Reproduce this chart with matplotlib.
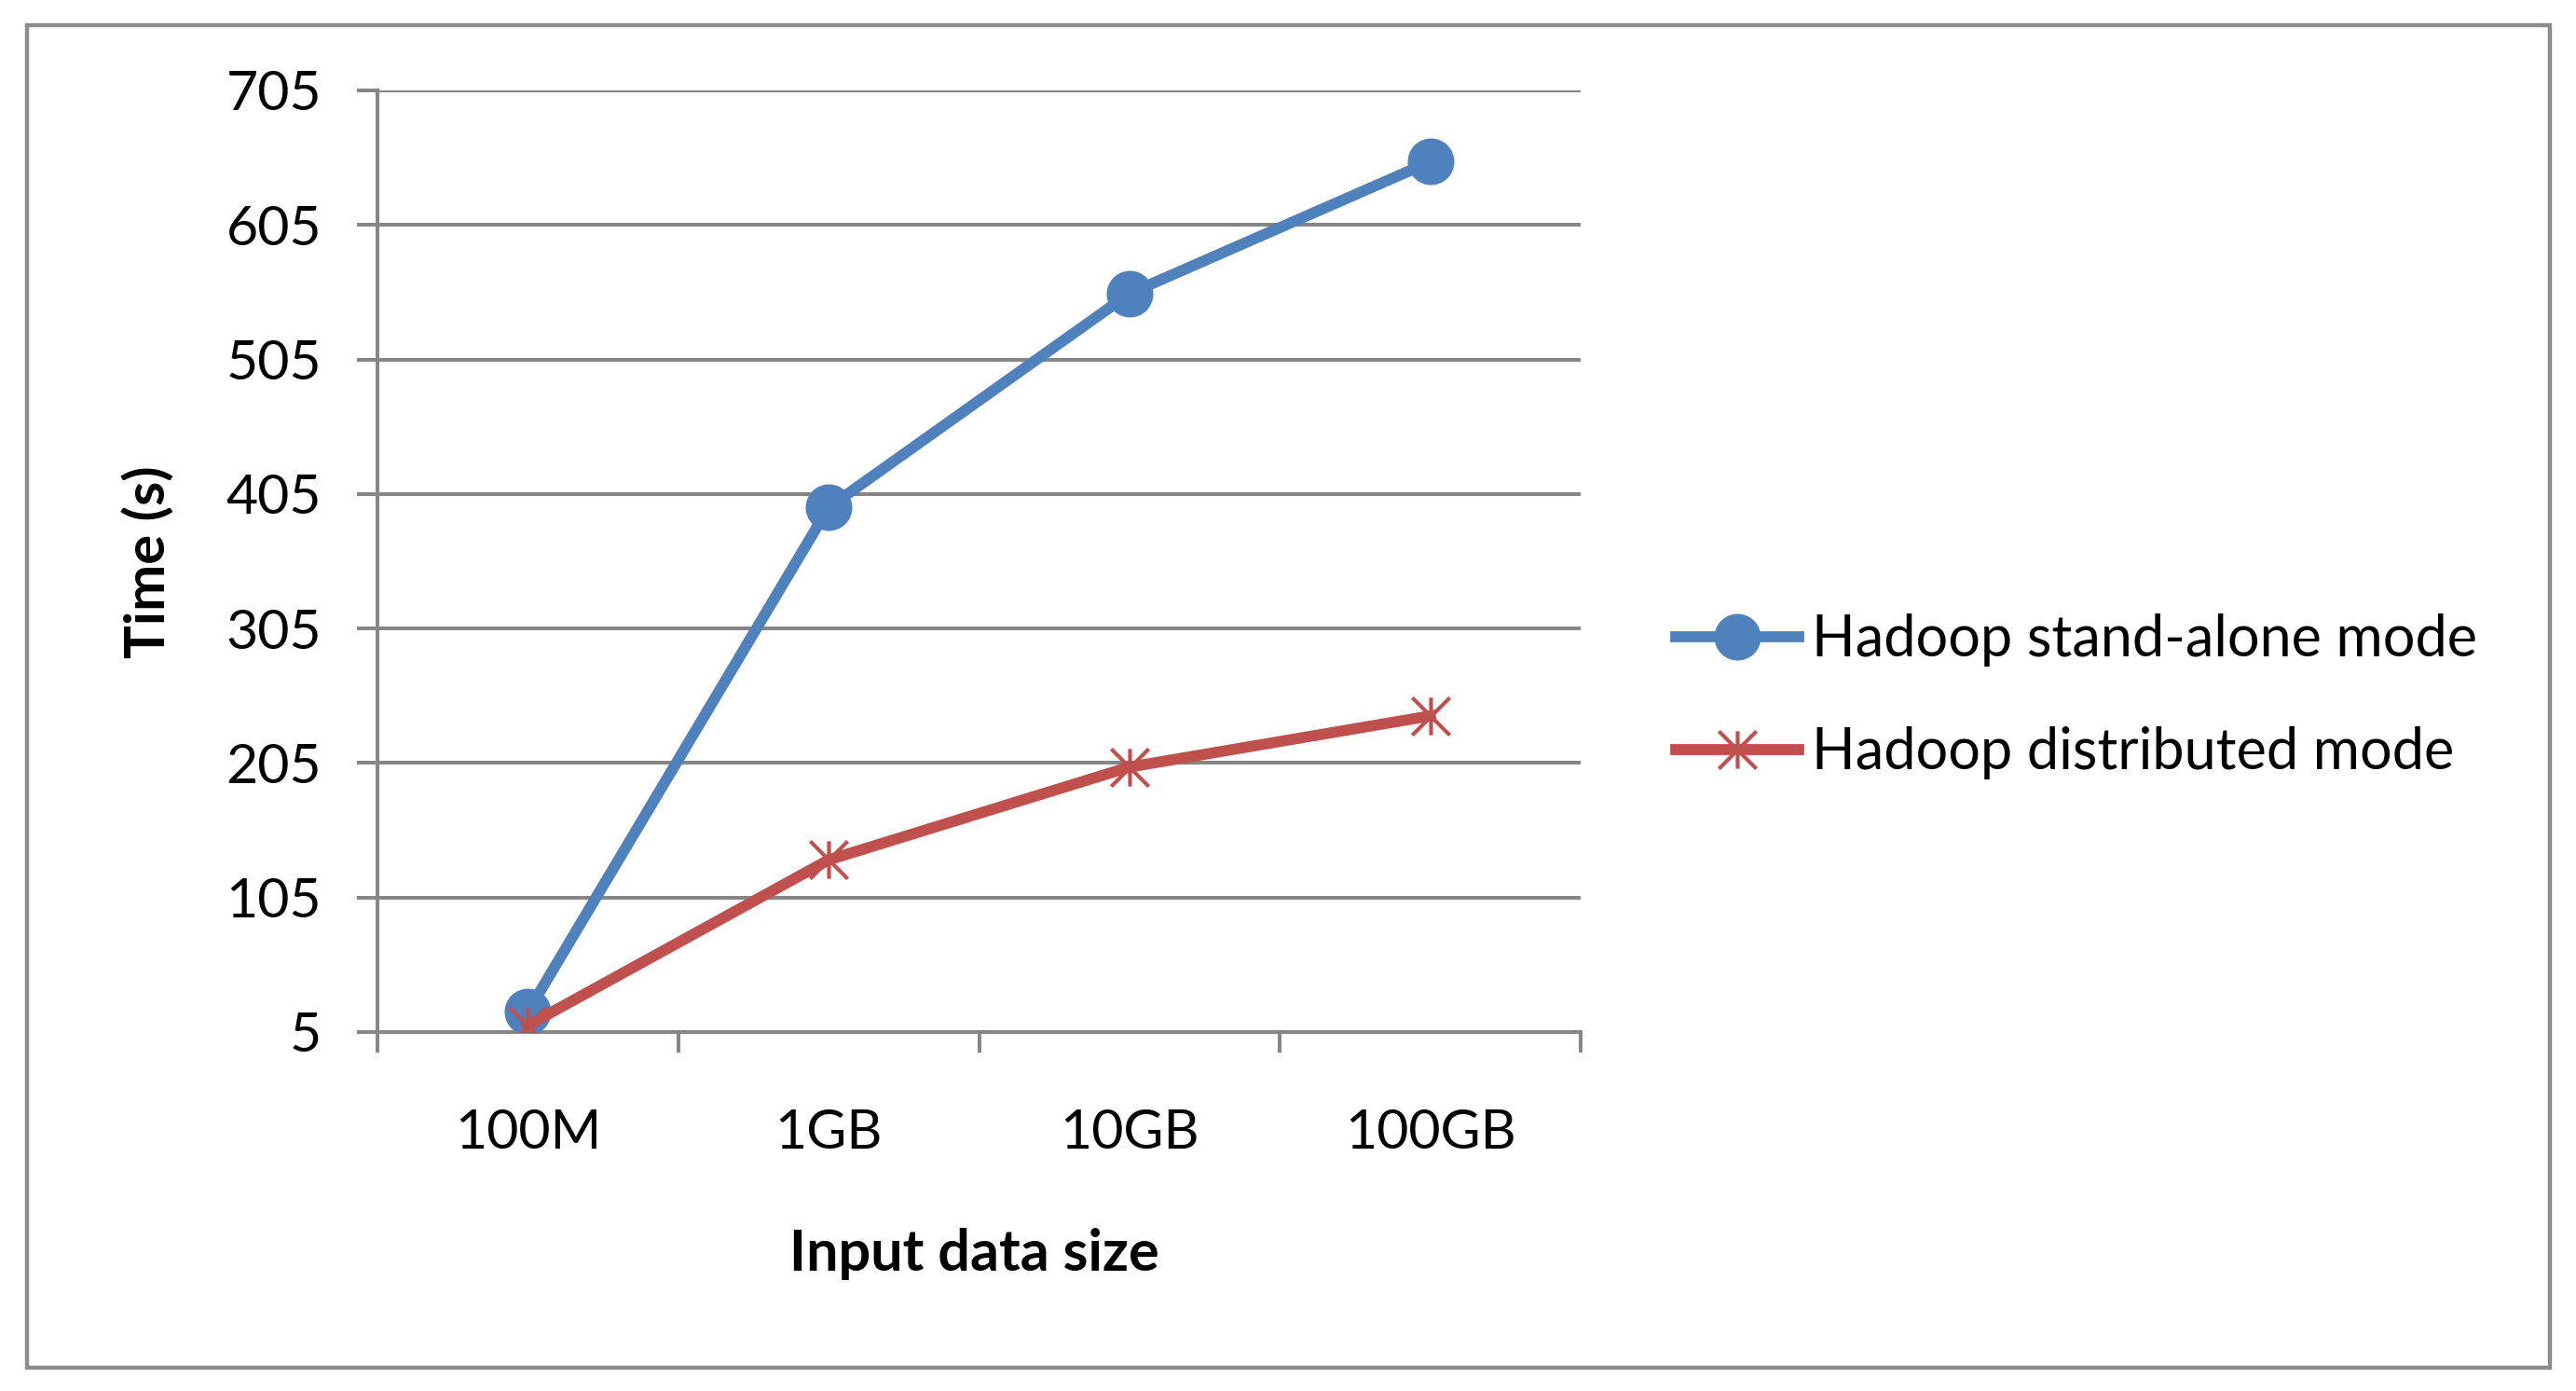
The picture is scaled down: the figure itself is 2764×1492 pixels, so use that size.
import matplotlib.pyplot as plt
from matplotlib.path import Path
from matplotlib.patches import Rectangle

# data
sizes = ['100M', '1GB', '10GB', '100GB']
standalone = [20, 395, 554, 652]
distributed = [10, 133, 202, 240]
yticks = [5, 105, 205, 305, 405, 505, 605, 705]

blue = '#4F81BD'
red = '#C0504D'
grid_gray = '#868686'

plt.rcParams['font.family'] = ['Lato', 'DejaVu Sans']

# Excel style asterisk: vertical bar plus an X
star = Path([(0, -1), (0, 1), (-1, -1), (1, 1), (-1, 1), (1, -1)],
            [Path.MOVETO, Path.LINETO, Path.MOVETO, Path.LINETO, Path.MOVETO, Path.LINETO])

fig = plt.figure(figsize=(27.64, 14.92), dpi=100)
ax = fig.add_axes([405 / 2764, 1 - 1107 / 1492, 1291 / 2764, 1010 / 1492])

x = list(range(len(sizes)))
ax.plot(x, standalone, color=blue, lw=8.5, marker='o', ms=35,
        label='Hadoop stand-alone mode', zorder=3)
ax.plot(x, distributed, color=red, lw=8.5, marker=star, ms=29, mew=3,
        mec=red, label='Hadoop distributed mode', zorder=4)

ax.set_xlim(-0.5, len(sizes) - 0.5)
ax.set_ylim(yticks[0], yticks[-1])
ax.set_yticks(yticks)
ax.set_yticklabels([str(v) for v in yticks])
ax.grid(axis='y', color=grid_gray, lw=2.9)
ax.set_axisbelow(True)

# boundaries get the tick marks, centres get the labels
ax.set_xticks([i - 0.5 for i in range(len(sizes) + 1)])
ax.set_xticklabels([])
ax.set_xticks(x, minor=True)
ax.set_xticklabels(sizes, minor=True)
ax.tick_params(axis='x', which='major', length=16, width=2.9, color=grid_gray)
ax.tick_params(axis='x', which='minor', length=0, pad=59, labelsize=42.5)
ax.tick_params(axis='y', length=16, width=2.9, color=grid_gray, pad=27, labelsize=42.5)

for side in ['top', 'right']:
    ax.spines[side].set_visible(False)
for side in ['left', 'bottom']:
    ax.spines[side].set_color(grid_gray)
    ax.spines[side].set_linewidth(2.9)

ax.set_ylabel('Time (s)', fontsize=43, fontweight='bold', va='center')
ax.yaxis.set_label_coords(-0.1905, 0.499)
ax.set_xlabel('Input data size', fontsize=44, fontweight='bold', va='center')
ax.xaxis.set_label_coords(0.496, -0.2356)

fig.legend(loc='center left', bbox_to_anchor=(1798 / 2764, 1 - 747 / 1492),
           frameon=False, fontsize=44, borderpad=0, borderaxespad=0,
           handlelength=2.16, handletextpad=0.23, labelspacing=1.05)

# outer chart border
fig.patches.append(Rectangle((29 / 2764, 1 - 1467 / 1492), 2707 / 2764, 1440 / 1492,
                             transform=fig.transFigure, fill=False,
                             edgecolor='#8c8c8c', lw=3.2))

fig.savefig('out.png', dpi=100)
